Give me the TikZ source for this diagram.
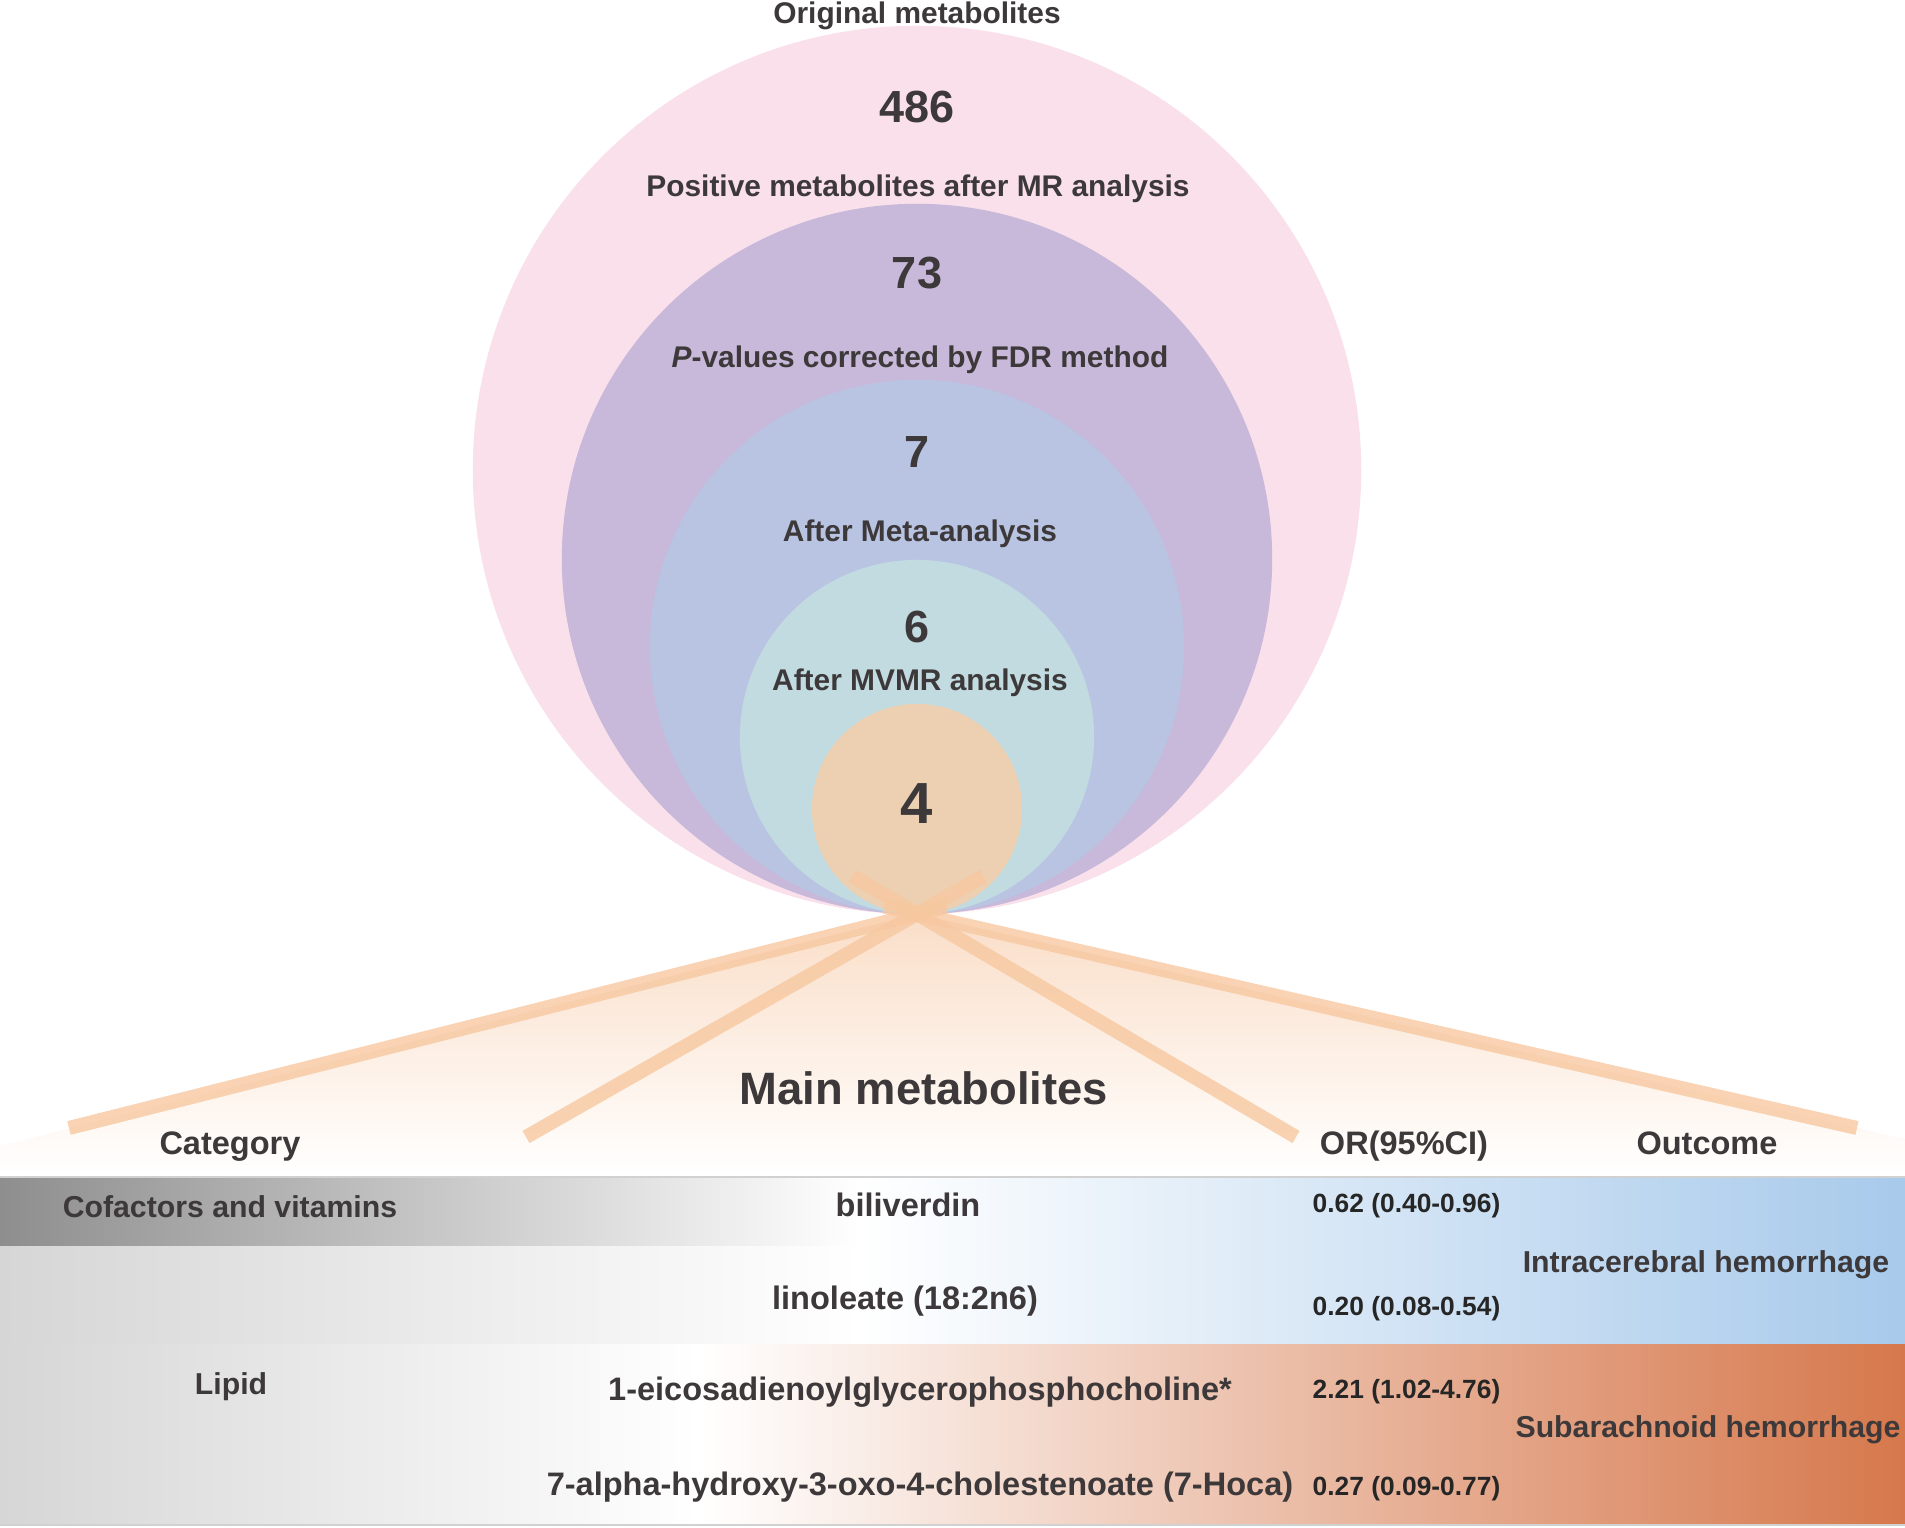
\documentclass[tikz,border=0pt]{standalone}
\usepackage{fontspec}
\setmainfont{Liberation Sans}
\usetikzlibrary{calc}
\usetikzlibrary{positioning}
\definecolor{txtc}{RGB}{61,57,58}
\definecolor{pinkc}{RGB}{249,224,235}
\definecolor{purpc}{RGB}{200,184,217}
\definecolor{bluec}{RGB}{185,196,227}
\definecolor{tealc}{RGB}{193,219,224}
\definecolor{peachc}{RGB}{236,208,177}
\definecolor{beamc}{RGB}{247,200,160}
\definecolor{fanc}{RGB}{250,222,200}
\definecolor{darkg}{RGB}{142,142,142}
\definecolor{lightg}{RGB}{214,214,215}
\definecolor{ichc}{RGB}{168,202,235}
\definecolor{sahc}{RGB}{214,120,76}
\tikzset{
    beam/.style = {line width=4pt, draw=beamc, draw opacity=0.8},
    numtxt/.style = {inner sep=0, anchor=base, text=txtc, font=\bfseries\fontsize{12.8}{14}\selectfont},
    fourtxt/.style = {numtxt, font=\bfseries\fontsize{16.5}{18}\selectfont},
    steptxt/.style = {inner sep=0, anchor=base, text=txtc, font=\bfseries\fontsize{8.5}{10}\selectfont},
    titletxt/.style = {inner sep=0, anchor=base, text=txtc, font=\bfseries\fontsize{12.9}{14}\selectfont},
    headtxt/.style = {inner sep=0, anchor=base, text=txtc, font=\bfseries\fontsize{9.25}{11}\selectfont},
    cattxt/.style = {inner sep=0, anchor=base, text=txtc, font=\bfseries\fontsize{8.6}{10}\selectfont},
    ortxt/.style = {inner sep=0, anchor=base west, text=black!85, font=\bfseries\fontsize{7.5}{9}\selectfont},
    rowline/.style = {draw=black!18, line width=0.6pt} % table rules
}

\begin{document}
\begin{tikzpicture}[x=0.01cm, y=-0.01cm]
    \useasboundingbox (0,0) rectangle (1905,1528);

    \coordinate (tip) at (917,914);
    \coordinate (endL) at (69,1128);
    \coordinate (endl) at (526,1137);
    \coordinate (endr) at (1296,1137);
    \coordinate (endR) at (1857,1128);

    % fan below the circles
    \shade[top color=fanc, bottom color=white]
        (tip) -- (0,1146) -- (0,1176) -- (1905,1176) -- (1905,1139) -- cycle;

    % nested circles
    \fill[pinkc] (917,470) circle[radius=4.44cm];
    \fill[purpc] (917,559) circle[radius=3.55cm];
    \fill[bluec] (917,647) circle[radius=2.67cm];
    \fill[tealc] (917,737) circle[radius=1.77cm];
    \fill[peachc] (917,809) circle[radius=1.05cm];

    \node[steptxt] (orig) at (917,24) {Original metabolites};
    \node[numtxt] (n486) at (917,123) {486};
    \node[steptxt] (mr) at (918,197) {Positive metabolites after MR analysis};
    \node[numtxt] (n73) at (917,289) {73};
    \node[steptxt] (fdr) at (920,368) {\textit{P}-values corrected by FDR method};
    \node[numtxt] (n7) at (917,468) {7};
    \node[steptxt] (meta) at (920,542) {After Meta-analysis};
    \node[numtxt] (n6) at (917,643) {6};
    \node[steptxt] (mvmr) at (920,691) {After MVMR analysis};
    \node[fourtxt] (n4) at (917,824) {4};

    % beams
    \draw[beam] (endL) -- ($(tip)!-0.035!(endL)$);
    \draw[beam] (endl) -- ($(tip)!-0.17!(endl)$);
    \draw[beam] (endr) -- ($(tip)!-0.17!(endr)$);
    \draw[beam] (endR) -- ($(tip)!-0.035!(endR)$);

    \node[titletxt] (mainlbl) at (924,1105) {Main metabolites};
    \node[headtxt] (hcat) at (230,1155) {Category};
    \node[headtxt] (hor) at (1404,1155) {OR(95\%CI)};
    \node[headtxt] (hout) at (1707,1155) {Outcome};

    % table bands
    \shade[left color=darkg, right color=white] (0,1177) rectangle (860,1247);
    \shade[left color=white, right color=ichc] (860,1177) rectangle (1905,1247);
    \shade[left color=lightg, right color=white] (0,1247) rectangle (860,1345);
    \shade[left color=white, right color=ichc] (860,1247) rectangle (1905,1345);
    \shade[left color=lightg, right color=white] (0,1345) rectangle (700,1525);
    \shade[left color=white, right color=sahc] (700,1345) rectangle (1905,1525);
    \draw[rowline] (0,1177) -- (1905,1177);
    \draw[rowline] (0,1525) -- (1905,1525);

    \node[cattxt] (cofac) at (230,1218) {Cofactors and vitamins};
    \node[cattxt] (lipid) at (231,1394) {Lipid};

    \node[headtxt] (bili) at (908,1217) {biliverdin};
    \node[headtxt] (lino) at (905,1310) {linoleate (18:2n6)};
    \node[headtxt] (eico) at (920,1400) {1-eicosadienoylglycerophosphocholine*};
    \node[headtxt] (hoca) at (920,1495) {7-alpha-hydroxy-3-oxo-4-cholestenoate (7-Hoca)};

    \node[ortxt] (or1) at (1312,1213) {0.62 (0.40-0.96)};
    \node[ortxt] (or2) at (1312,1316) {0.20 (0.08-0.54)};
    \node[ortxt] (or3) at (1312,1398) {2.21 (1.02-4.76)};
    \node[ortxt] (or4) at (1312,1495) {0.27 (0.09-0.77)};

    \node[cattxt] (ich) at (1706,1273) {Intracerebral hemorrhage};
    \node[cattxt] (sah) at (1708,1437) {Subarachnoid hemorrhage};
\end{tikzpicture}
\end{document}
